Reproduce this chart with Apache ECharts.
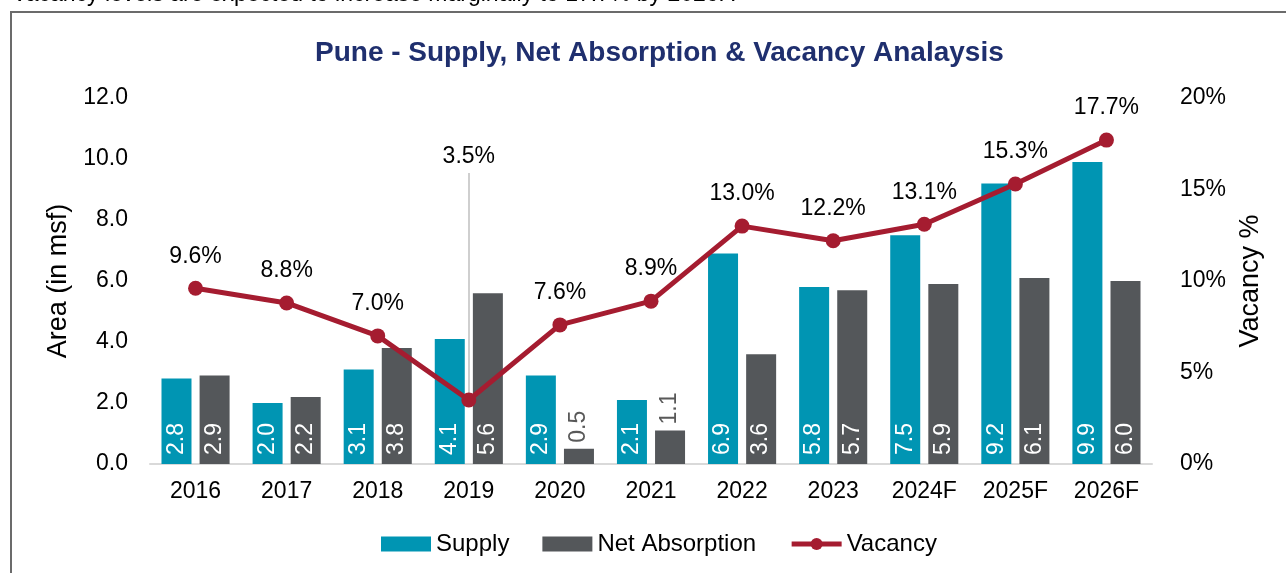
<!DOCTYPE html>
<html>
<head>
<meta charset="utf-8">
<script src="https://cdn.jsdelivr.net/npm/echarts@6/dist/echarts.min.js"></script>
<style>
  html, body { margin: 0; padding: 0; background: #fff; }
  #chart { width: 1286px; height: 573px; }
</style>
</head>
<body>
<div id="chart"></div>
<script>
// data
var years = ['2016', '2017', '2018', '2019', '2020', '2021', '2022', '2023', '2024F', '2025F', '2026F'];
var supply = [2.8, 2.0, 3.1, 4.1, 2.9, 2.1, 6.9, 5.8, 7.5, 9.2, 9.9];
var netAbsorption = [2.9, 2.2, 3.8, 5.6, 0.5, 1.1, 3.6, 5.7, 5.9, 6.1, 6.0];
var vacancy = [9.6, 8.8, 7.0, 3.5, 7.6, 8.9, 13.0, 12.2, 13.1, 15.3, 17.7];
var leftTicks = [0, 12, 2];   // min, max, step
var rightTicks = [0, 20, 5];

var FONT = '"Liberation Sans", Arial, sans-serif';
var teal = '#0095B3', grey = '#54575A', red = '#A51C30';

// bars too short for the label to sit inside get it on top
function barData(arr) {
    return arr.map(function (v) {
        if (v < 1.5) {
            return { value: v, label: { position: 'top', color: '#595959', align: 'left', distance: 6 } };
        }
        return v;
    });
}

var barLabel = {
    show: true,
    rotate: 90,
    position: 'insideBottom',
    align: 'left',
    verticalAlign: 'middle',
    distance: 9,
    color: '#fff',
    fontSize: 23,
    fontFamily: FONT,
    formatter: function (p) { return p.value.toFixed(1); }
};

var chart = echarts.init(document.getElementById('chart'));
chart.setOption({
    animation: false,
    textStyle: { fontFamily: FONT },
    graphic: [
        {
            type: 'text', left: 12, top: -17,
            style: { text: 'Vacancy levels are expected to increase marginally to 17.7% by 2026F.', fontSize: 23, fontFamily: FONT, fill: '#000' }
        },
        {
            type: 'rect', shape: { x: 11, y: 12, width: 1300, height: 600 },
            style: { fill: 'none', stroke: '#6b6b6b', lineWidth: 2 }, z: -1
        }
    ],
    title: {
        text: 'Pune - Supply, Net Absorption & Vacancy Analaysis',
        left: 310, top: 34,
        textStyle: { color: '#1F2F6E', fontSize: 28, fontWeight: 'bold', fontFamily: FONT }
    },
    legend: {
        bottom: 12, left: 376,
        itemWidth: 50, itemHeight: 15, itemGap: 33,
        textStyle: { fontSize: 24, color: '#000', fontFamily: FONT },
        data: [
            { name: 'Supply', icon: 'rect' },
            { name: 'Net Absorption', icon: 'rect' },
            { name: 'Vacancy', lineStyle: { width: 5, color: red }, itemStyle: { color: red } }
        ]
    },
    grid: { left: 150, right: 134, top: 98, bottom: 109 },
    xAxis: {
        type: 'category',
        data: years,
        axisTick: { show: false },
        axisLine: { lineStyle: { color: '#d9d9d9', width: 2 } },
        axisLabel: { color: '#000', fontSize: 23, margin: 16 }
    },
    yAxis: [
        {
            type: 'value', min: leftTicks[0], max: leftTicks[1], interval: leftTicks[2],
            name: 'Area (in msf)', nameLocation: 'middle', nameGap: 74, nameRotate: 90,
            nameTextStyle: { fontSize: 27, color: '#000' },
            splitLine: { show: false }, axisLine: { show: false }, axisTick: { show: false },
            axisLabel: { color: '#000', fontSize: 23, margin: 22, formatter: function (v) { return v.toFixed(1); } }
        },
        {
            type: 'value', min: rightTicks[0], max: rightTicks[1], interval: rightTicks[2],
            name: 'Vacancy %', nameLocation: 'middle', nameGap: 85, nameRotate: 90,
            nameTextStyle: { fontSize: 27, color: '#000' },
            splitLine: { show: false }, axisLine: { show: false }, axisTick: { show: false },
            axisLabel: { color: '#000', fontSize: 23, margin: 28, formatter: '{value}%' }
        }
    ],
    series: [
        {
            name: 'Supply', type: 'bar', data: barData(supply),
            barWidth: 30, barGap: '27%',
            itemStyle: { color: teal },
            label: barLabel
        },
        {
            name: 'Net Absorption', type: 'bar', data: barData(netAbsorption),
            barWidth: 30,
            itemStyle: { color: grey },
            label: barLabel
        },
        {
            name: 'Vacancy', type: 'line', yAxisIndex: 1,
            data: vacancy.map(function (v, i) {
                return i === 3 ? { value: v, label: { show: false } } : v;
            }),
            symbol: 'circle', symbolSize: 15,
            lineStyle: { color: red, width: 5 },
            itemStyle: { color: red },
            label: {
                show: true, position: 'top', distance: 13,
                color: '#000', fontSize: 23,
                formatter: function (p) { return p.value.toFixed(1) + '%'; }
            },
            z: 5,
            // leader line for the 2019 low point
            markLine: {
                silent: true,
                symbol: ['none', 'none'],
                lineStyle: { color: '#bfbfbf', width: 1.5, type: 'solid' },
                data: [[
                    { coord: [years[3], vacancy[3]] },
                    { coord: [years[3], 15.9] }
                ]],
                label: {
                    show: true, position: 'end', distance: 5,
                    color: '#000', fontSize: 23,
                    formatter: vacancy[3].toFixed(1) + '%'
                },
                z: 1
            }
        }
    ]
});
</script>
</body>
</html>
